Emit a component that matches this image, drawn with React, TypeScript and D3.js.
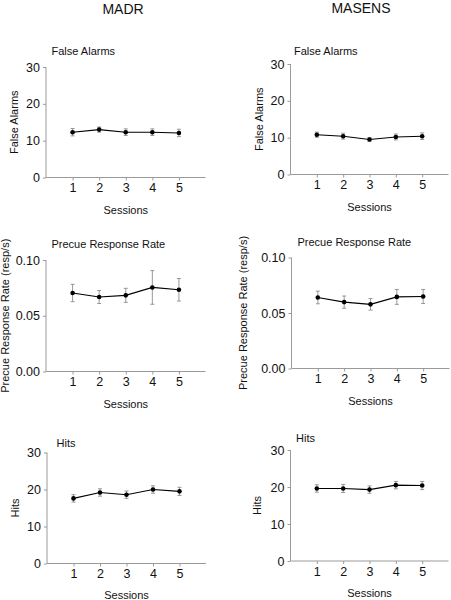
import React, { useEffect, useRef } from "react";
import * as d3 from "d3";

const sessions = [1, 2, 3, 4, 5];
const columnTitles = ["MADR", "MASENS"];

const madrFalseAlarms = [12.3, 13.0, 12.3, 12.3, 12.1];
const madrFalseAlarmsErr = [1.0, 0.7, 0.9, 0.9, 1.0];
const masensFalseAlarms = [10.8, 10.4, 9.5, 10.2, 10.4];
const masensFalseAlarmsErr = [0.7, 0.8, 0.5, 0.8, 0.9];

const madrPrecue = [0.0704, 0.0668, 0.0683, 0.0754, 0.0733];
const madrPrecueErr = [0.0078, 0.0058, 0.0063, 0.0151, 0.0101];
const masensPrecue = [0.064, 0.0598, 0.0578, 0.0645, 0.0649];
const masensPrecueErr = [0.0057, 0.0055, 0.0052, 0.0067, 0.0063];

const madrHits = [17.6, 19.2, 18.6, 20.0, 19.5];
const madrHitsErr = [1.0, 1.0, 1.0, 1.0, 1.1];
const masensHits = [19.6, 19.6, 19.3, 20.5, 20.4];
const masensHitsErr = [1.0, 1.1, 1.0, 1.0, 1.1];

const faTicks = [0, 10, 20, 30];
const precueTicks = [0, 0.05, 0.1];
const hitsTicks = [0, 10, 20, 30];

type Panel = {
  title: string;
  yLabel: string;
  values: number[];
  errs: number[];
  ticks: number[];
  fmt: (v: number) => string;
  yMax: number;
  // layout
  ax: number;
  axEnd: number;
  yTop: number;
  yBot: number;
  titleX: number;
  titleY: number;
  yLabelX: number;
  sessY: number;
};

const intFmt = (v: number) => d3.format("d")(v);
const decFmt = (v: number) => d3.format(".2f")(v);

const panels: Panel[] = [
  { title: "False Alarms", yLabel: "False Alarms", values: madrFalseAlarms, errs: madrFalseAlarmsErr, ticks: faTicks, fmt: intFmt, yMax: 30,
    ax: 46, axEnd: 205.5, yTop: 67, yBot: 177.5, titleX: 51.5, titleY: 54.5, yLabelX: 14, sessY: 214 },
  { title: "False Alarms", yLabel: "False Alarms", values: masensFalseAlarms, errs: masensFalseAlarmsErr, ticks: faTicks, fmt: intFmt, yMax: 30,
    ax: 290.5, axEnd: 448.5, yTop: 64, yBot: 174.5, titleX: 294, titleY: 55, yLabelX: 258.5, sessY: 211 },
  { title: "Precue Response Rate", yLabel: "Precue Response Rate (resp/s)", values: madrPrecue, errs: madrPrecueErr, ticks: precueTicks, fmt: decFmt, yMax: 0.1,
    ax: 46, axEnd: 205.5, yTop: 260, yBot: 371.5, titleX: 51.5, titleY: 248, yLabelX: 5, sessY: 408 },
  { title: "Precue Response Rate", yLabel: "Precue Response Rate (resp/s)", values: masensPrecue, errs: masensPrecueErr, ticks: precueTicks, fmt: decFmt, yMax: 0.1,
    ax: 291.5, axEnd: 449.5, yTop: 257.5, yBot: 368.5, titleX: 297.5, titleY: 246, yLabelX: 242.5, sessY: 405 },
  { title: "Hits", yLabel: "Hits", values: madrHits, errs: madrHitsErr, ticks: hitsTicks, fmt: intFmt, yMax: 30,
    ax: 47, axEnd: 206, yTop: 452.5, yBot: 563.5, titleX: 56.5, titleY: 446.5, yLabelX: 15, sessY: 599 },
  { title: "Hits", yLabel: "Hits", values: masensHits, errs: masensHitsErr, ticks: hitsTicks, fmt: intFmt, yMax: 30,
    ax: 290.5, axEnd: 448.5, yTop: 450, yBot: 561, titleX: 296, titleY: 441.5, yLabelX: 257, sessY: 597 },
];

const FONT = "Arial, 'Liberation Sans', Helvetica, sans-serif";
const AXIS = "#9a9a9a";
const ERR = "#8c8c8c";

export default function App() {
  const ref = useRef<SVGSVGElement | null>(null);

  useEffect(() => {
    const svg = d3.select(ref.current);
    svg.selectAll("*").remove();

    // column titles
    const titleX = [123, 361];
    const titleY = [13.5, 12.5];
    columnTitles.forEach((t, i) => {
      svg.append("text").attr("x", titleX[i]).attr("y", titleY[i])
        .attr("text-anchor", "middle").attr("font-size", 14).attr("font-family", FONT)
        .attr("fill", "#111").text(t);
    });

    panels.forEach((p) => {
      const g = svg.append("g");
      const x = d3.scaleLinear().domain([0, 6]).range([p.ax, p.axEnd]);
      const y = d3.scaleLinear().domain([0, p.yMax]).range([p.yBot, p.yTop]);

      // y axis
      const yAxis = d3.axisLeft(y).tickValues(p.ticks).tickFormat((v) => p.fmt(v as number))
        .tickSize(3).tickPadding(3);
      const ya = g.append("g").attr("transform", `translate(${p.ax},0)`).call(yAxis);
      ya.select(".domain").attr("stroke", AXIS).attr("d", `M0,${p.yTop}V${p.yBot}`);
      ya.selectAll(".tick line").attr("stroke", AXIS);
      ya.selectAll(".tick text").attr("font-size", 12.5).attr("font-family", FONT).attr("fill", "#111");

      // x axis
      const xAxis = d3.axisBottom(x).tickValues(sessions).tickFormat(d3.format("d"))
        .tickSize(3).tickPadding(3);
      const xa = g.append("g").attr("transform", `translate(0,${p.yBot})`).call(xAxis);
      xa.select(".domain").attr("stroke", AXIS).attr("d", `M${p.ax},0H${p.axEnd}`);
      xa.selectAll(".tick line").attr("stroke", AXIS);
      xa.selectAll(".tick text").attr("font-size", 12.5).attr("font-family", FONT).attr("fill", "#111");

      // panel title
      g.append("text").attr("x", p.titleX).attr("y", p.titleY).attr("font-size", 11)
        .attr("font-family", FONT).attr("fill", "#111").text(p.title);

      // y label
      const cy = (p.yTop + p.yBot) / 2;
      g.append("text").attr("transform", `translate(${p.yLabelX},${cy}) rotate(-90)`)
        .attr("text-anchor", "middle").attr("dominant-baseline", "central")
        .attr("font-size", 11).attr("font-family", FONT).attr("fill", "#111").text(p.yLabel);

      // x label
      g.append("text").attr("x", (x(1) + x(5)) / 2).attr("y", p.sessY)
        .attr("text-anchor", "middle").attr("font-size", 11).attr("font-family", FONT)
        .attr("fill", "#111").text("Sessions");

      const pts = sessions.map((s, i) => ({ s, v: p.values[i], e: p.errs[i] }));

      // error bars
      const eb = g.append("g").attr("stroke", ERR).attr("stroke-width", 0.9).attr("fill", "none");
      pts.forEach((d) => {
        const cx = x(d.s);
        const y1 = y(d.v + d.e);
        const y2 = y(d.v - d.e);
        eb.append("line").attr("x1", cx).attr("x2", cx).attr("y1", y1).attr("y2", y2);
        eb.append("line").attr("x1", cx - 2).attr("x2", cx + 2).attr("y1", y1).attr("y2", y1);
        eb.append("line").attr("x1", cx - 2).attr("x2", cx + 2).attr("y1", y2).attr("y2", y2);
      });

      // line
      const line = d3.line<{ s: number; v: number }>().x((d) => x(d.s)).y((d) => y(d.v));
      g.append("path").datum(pts).attr("d", line as any).attr("fill", "none")
        .attr("stroke", "#000").attr("stroke-width", 1.1);

      // markers
      g.selectAll(null).data(pts).enter().append("circle")
        .attr("cx", (d) => x(d.s)).attr("cy", (d) => y(d.v)).attr("r", 2.3).attr("fill", "#000");
    });
  }, []);

  return (
    <svg ref={ref} width={451} height={600}
      style={{ position: "absolute", left: 0, top: 0, background: "#fff" }} />
  );
}
